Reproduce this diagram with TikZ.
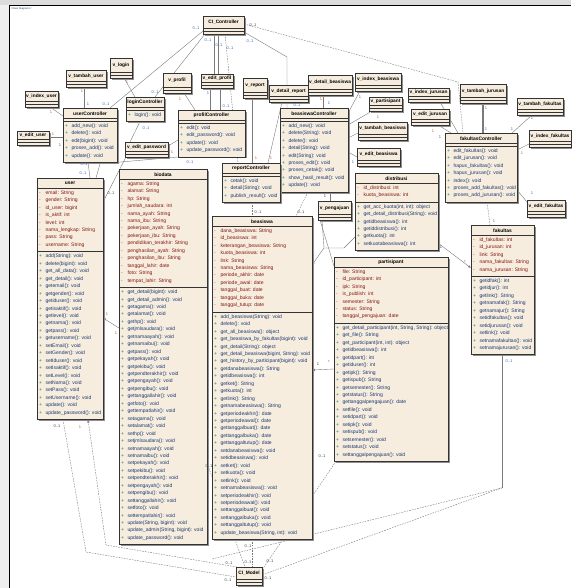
\documentclass[tikz,border=0pt]{standalone}
\usepackage{fontspec}
\setmainfont{Liberation Sans}
\usetikzlibrary{arrows.meta,calc}

\definecolor{boxfill}{HTML}{F6EDDF}
\definecolor{boxline}{HTML}{333333}
\definecolor{shadowc}{HTML}{8E8E8E}
\definecolor{amark}{HTML}{C0392B}
\definecolor{atext}{HTML}{86190F}
\definecolor{mmark}{HTML}{1E7F6A}
\definecolor{mtext}{HTML}{1C3A70}
\definecolor{connc}{HTML}{7A7A7A}
\definecolor{multblue}{HTML}{3B6DB3}
\definecolor{multorange}{HTML}{C0662A}
\definecolor{multdark}{HTML}{454545}
\definecolor{framegrey}{HTML}{DCDCDC}
\definecolor{sidegrey}{HTML}{EFEFEF}

\pgfdeclarelayer{paper}
\pgfdeclarelayer{wires}
\pgfsetlayers{paper,wires,main}

\tikzset{
  umlbox/.style={draw=boxline, fill=boxfill, line width=0.55pt, inner sep=0pt, outer sep=0pt, anchor=north west},
  sepline/.style={draw=boxline, line width=0.4pt},
  titlefont/.style={font=\fontsize{4.9}{5}\selectfont\bfseries, inner sep=0pt},
  viewfont/.style={font=\fontsize{4.8}{5}\selectfont\bfseries, inner sep=0pt},
  listfont/.style={font=\fontsize{5.05}{7.45}\selectfont, align=left, inner sep=0pt, anchor=north west},
  conn/.style={draw=connc, line width=0.4pt},
  dconn/.style={conn, dash pattern=on 1.6pt off 1.1pt},
  tip/.style={-{Latex[length=3pt,width=2.4pt]}},
  mb/.style={font=\fontsize{4}{4}\selectfont, text=multblue, inner sep=0pt},
  mo/.style={mb, text=multorange},
  md/.style={mb, text=multdark},
}

% one attribute / one operation line of a class box
\newcommand\attr[1]{\makebox[6.3pt][l]{\textcolor{amark}{-}}\textcolor{atext}{#1}}
\newcommand\meth[1]{\makebox[6.3pt][l]{\textcolor{mmark}{+}}\textcolor{mtext}{#1}}

% class box: name, x, y, width, title, #attrs, attrs, #ops, ops
\newcommand\umlclass[9]{%
  \pgfmathsetmacro\clsHa{ifthenelse(#6==0,3,#6*7.45+4)}%
  \pgfmathsetmacro\clsHm{ifthenelse(#8==0,3,#8*7.45+4)}%
  \pgfmathsetmacro\clsHt{10+\clsHa+\clsHm}%
  \fill[shadowc] (#2+1.6,#3+1.6) rectangle ++(#4,\clsHt);
  \node[umlbox, minimum width=#4pt, minimum height=\clsHt pt] (#1) at (#2,#3) {};
  \draw[sepline] (#2,#3+10) -- ++(#4,0);
  \draw[sepline] (#2,#3+10+\clsHa) -- ++(#4,0);
  \node[titlefont] at (#2+#4/2,#3+5.4) {#5};
  \node[listfont] at (#2+2,#3+12.4) {#7};
  \node[listfont] at (#2+2,#3+12.4+\clsHa) {#9};
}

% view / base class box without members: name, x, y, width, height, title
\newcommand\umlview[6]{%
  \fill[shadowc] (#2+1.6,#3+1.6) rectangle ++(#4,#5);
  \node[umlbox, minimum width=#4pt, minimum height=#5pt] (#1) at (#2,#3) {};
  \draw[sepline] (#2,#3+#5-6) -- ++(#4,0);
  \draw[sepline] (#2,#3+#5-3) -- ++(#4,0);
  \node[viewfont] at (#2+#4/2,#3+#5/2-2.6) {#6};
}

\begin{document}
\catcode`\_=12
\begin{tikzpicture}[x=1pt,y=-1pt]
\useasboundingbox (0,0) rectangle (571,588);
\begin{pgfonlayer}{paper}
\fill[white] (0,0) rectangle (571,588);
\fill[framegrey] (0,0) rectangle (571,5.3);
\fill[sidegrey] (0,5.3) rectangle (9,588);
\draw[black, line width=0.9pt] (9,5.6) -- (571,5.6);
\draw[black, line width=0.8pt] (9,5.6) -- (9,588);
\end{pgfonlayer}
\node[font=\fontsize{2.6}{3}\selectfont, text=mtext, anchor=north west, inner sep=0.4pt] (tab) at (11,6.6) {Class Diagram1 /};

% ---------------- views and base classes ----------------
\umlview{CIC}{203}{16}{41}{18}{CI_Controller}
\umlview{CIM}{236}{567}{26}{18}{CI_Model}
\umlview{vlogin}{110}{58}{22}{20}{v_login}
\umlview{vtambahuser}{66}{70}{40}{17}{v_tambah_user}
\umlview{vindexuser}{25}{91}{33}{16}{v_index_user}
\umlview{vedituser}{17}{131}{32}{14}{v_edit_user}
\umlview{vprofil}{163}{73}{28}{20}{v_profil}
\umlview{veditpw}{125}{142}{43}{15}{v_edit_password}
\umlview{veditprofil}{201}{74}{32}{14}{v_edit_profil}
\umlview{vreport}{243}{78}{24}{20}{v_report}
\umlview{vdetailreport}{269}{85}{39}{17}{v_detail_report}
\umlview{vdetailbea}{308}{75}{44}{20}{v_detail_beasiswa}
\umlview{vindexbea}{355}{73}{46}{18}{v_index_beasiswa}
\umlview{vpartisipant}{369}{97}{33}{14}{v_partisipant}
\umlview{vtambahbea}{358}{122}{49}{18}{v_tambah_beasiswa}
\umlview{veditbea}{357}{148}{43}{18}{v_edit_beasiswa}
\umlview{vpengajuan}{318}{201}{33}{19}{v_pengajuan}
\umlview{vindexjur}{408}{88}{41}{14}{v_index_jurusan}
\umlview{veditjur}{411}{109}{38}{16}{v_edit_jurusan}
\umlview{vtambahjur}{460}{84}{46}{19}{v_tambah_jurusan}
\umlview{vtambahfak}{517}{98}{46}{17}{v_tambah_fakultas}
\umlview{vindexfak}{529}{130}{42}{17}{v_index_fakultas}
\umlview{veditfak}{527}{200}{38}{17}{v_edit_fakultas}

% ---------------- controllers ----------------
\umlclass{userCtl}{63}{108}{54}{userController}{0}{}{5}{%
\meth{add_new(): void}\\\meth{delete(): void}\\\meth{edit(bigint): void}\\\meth{proses_add(): void}\\\meth{update(): void}}
\umlclass{loginCtl}{126}{97}{38}{loginController}{0}{}{1}{\meth{login(): void}}
\umlclass{profilCtl}{178}{110}{67}{profilController}{0}{}{4}{%
\meth{edit(): void}\\\meth{edit_password(): void}\\\meth{update(): void}\\\meth{update_password(): void}}
\umlclass{beasiswaCtl}{280}{108}{68}{beasiswaController}{0}{}{9}{%
\meth{add_new(): void}\\\meth{delete(String): void}\\\meth{delete(): void}\\\meth{detail(String): void}\\%
\meth{edit(String): void}\\\meth{proses_edit(): void}\\\meth{proses_cetak(): void}\\\meth{show_hasil_result(): void}\\\meth{update(): void}}
\umlclass{reportCtl}{222}{163}{58}{reportController}{0}{}{3}{%
\meth{cetak(): void}\\\meth{detail(String): void}\\\meth{publish_result(): void}}
\umlclass{fakultasCtl}{445}{133}{72}{fakultasController}{0}{}{7}{%
\meth{edit_fakultas(): void}\\\meth{edit_jurusan(): void}\\\meth{hapus_fakultas(): void}\\\meth{hapus_jurusan(): void}\\%
\meth{index(): void}\\\meth{proses_add_fakultas(): void}\\\meth{proses_add_jurusan(): void}}

% ---------------- models ----------------
\umlclass{user}{37}{178}{66}{user}{8}{%
\attr{email: String}\\\attr{gender: String}\\\attr{id_user: bigint}\\\attr{is_aktif: int}\\%
\attr{level: int}\\\attr{nama_lengkap: String}\\\attr{pass: String}\\\attr{username: String}}{22}{%
\meth{add(String): void}\\\meth{delete(bigint): void}\\\meth{get_all_data(): void}\\\meth{get_detail(): void}\\%
\meth{getemail(): void}\\\meth{getgender(): void}\\\meth{getiduser(): void}\\\meth{getisaktif(): void}\\%
\meth{getlevel(): void}\\\meth{getnama(): void}\\\meth{getpass(): void}\\\meth{getusername(): void}\\%
\meth{setEmail(): void}\\\meth{setGender(): void}\\\meth{setIduser(): void}\\\meth{setIsaktif(): void}\\%
\meth{setLevel(): void}\\\meth{setNama(): void}\\\meth{setPass(): void}\\\meth{setUsername(): void}\\%
\meth{update(): void}\\\meth{update_password(): void}}

\umlclass{biodata}{119}{169}{88}{biodata}{14}{%
\attr{agama: String}\\\attr{alamat: String}\\\attr{hp: String}\\\attr{jumlah_saudara: int}\\%
\attr{nama_ayah: String}\\\attr{nama_ibu: String}\\\attr{pekerjaan_ayah: String}\\\attr{pekerjaan_ibu: String}\\%
\attr{pendidikan_terakhir: String}\\\attr{penghasilan_ayah: String}\\\attr{penghasilan_ibu: String}\\%
\attr{tanggal_lahir: date}\\\attr{foto: String}\\\attr{tempat_lahir: String}}{34}{%
\meth{get_detail(bigint): void}\\\meth{get_detail_admin(): void}\\\meth{getagama(): void}\\\meth{getalamat(): void}\\%
\meth{gethp(): void}\\\meth{getjmlsaudara(): void}\\\meth{getnamaayah(): void}\\\meth{getnamaibu(): void}\\%
\meth{getpass(): void}\\\meth{getpekayah(): void}\\\meth{getpekibu(): void}\\\meth{getpendterakhir(): void}\\%
\meth{getpengayah(): void}\\\meth{getpengibu(): void}\\\meth{gettanggallahir(): void}\\\meth{getfoto(): void}\\%
\meth{gettempatlahir(): void}\\\meth{setagama(): void}\\\meth{setalamat(): void}\\\meth{sethp(): void}\\%
\meth{setjmlsaudara(): void}\\\meth{setnamaayah(): void}\\\meth{setnamaibu(): void}\\\meth{setpekayah(): void}\\%
\meth{setpekibu(): void}\\\meth{setpendterakhir(): void}\\\meth{setpengayah(): void}\\\meth{setpengibu(): void}\\%
\meth{settanggallahir(): void}\\\meth{setfoto(): void}\\\meth{settempatlahir(): void}\\%
\meth{update(String, bigint): void}\\\meth{update_admin(String, bigint): void}\\\meth{update_password(): void}}

\umlclass{beasiswa}{212}{216}{100}{beasiswa}{11}{%
\attr{dana_beasiswa: String}\\\attr{id_beasiswa: int}\\\attr{keterangan_beasiswa: String}\\\attr{kuota_beasiswa: int}\\%
\attr{link: String}\\\attr{nama_beasiswa: String}\\\attr{periode_akhir: date}\\\attr{periode_awal: date}\\%
\attr{tanggal_buat: date}\\\attr{tanggal_buka: date}\\\attr{tanggal_tutup: date}}{30}{%
\meth{add_beasiswa(String): void}\\\meth{delete(): void}\\\meth{get_all_beasiswa(): object}\\%
\meth{get_beasiswa_by_fakultas(bigint): void}\\\meth{get_detail(String): object}\\%
\meth{get_detail_beasiswa(bigint, String): void}\\\meth{get_history_by_participant(bigint): void}\\%
\meth{getdanabeasiswa(): String}\\\meth{getidbeasiswa(): int}\\\meth{getket(): String}\\\meth{getkuota(): int}\\%
\meth{getlink(): String}\\\meth{getnamabeasiswa(): String}\\\meth{getperiodeakhir(): date}\\\meth{getperiodeawal(): date}\\%
\meth{gettanggalbuat(): date}\\\meth{gettanggalbuka(): date}\\\meth{gettanggaltutup(): date}\\%
\meth{setdanabeasiswa(): void}\\\meth{setidbeasiswa(): void}\\\meth{setket(): void}\\\meth{setkuota(): void}\\%
\meth{setlink(): void}\\\meth{setnamabeasiswa(): void}\\\meth{setperiodeakhir(): void}\\\meth{setperiodeawal(): void}\\%
\meth{settanggalbuat(): void}\\\meth{settanggalbuka(): void}\\\meth{settanggaltutup(): void}\\%
\meth{update_beasiswa(String, int): void}}

\umlclass{partisipant}{334}{257}{114}{partisipant}{7}{%
\attr{file: String}\\\attr{id_participant: int}\\\attr{ipk: String}\\\attr{is_publish: int}\\%
\attr{semester: String}\\\attr{status: String}\\\attr{tanggal_pengajuan: date}}{18}{%
\meth{get_detail_participant(int, String, String): object}\\\meth{get_file(): String}\\%
\meth{get_participant(int, int): object}\\\meth{getidbeasiswa(): int}\\\meth{getidpart(): int}\\%
\meth{getiduser(): int}\\\meth{getipk(): String}\\\meth{getispub(): String}\\\meth{getsemester(): String}\\%
\meth{getstatus(): String}\\\meth{gettanggalpengajuan(): date}\\\meth{setfile(): void}\\\meth{setidpart(): void}\\%
\meth{setipk(): void}\\\meth{setispub(): void}\\\meth{setsemester(): void}\\\meth{setstatus(): void}\\%
\meth{settanggalpengajuan(): void}}

\umlclass{distribusi}{355}{173}{83}{distribusi}{2}{%
\attr{id_distribusi: int}\\\attr{kuota_beasiswa: int}}{6}{%
\meth{get_acc_kuota(int, int): object}\\\meth{get_detail_distribusi(String): void}\\\meth{getidbeasiswa(): int}\\%
\meth{getiddistribusi(): int}\\\meth{getkuota(): int}\\\meth{setkuotabeasiswa(): int}}

\umlclass{fakultas}{471}{225}{63}{fakultas}{5}{%
\attr{id_fakultas: int}\\\attr{id_jurusan: int}\\\attr{link: String}\\\attr{nama_fakultas: String}\\\attr{nama_jurusan: String}}{10}{%
\meth{getidfak(): int}\\\meth{getidjur(): int}\\\meth{getlink(): String}\\\meth{getnamafak(): String}\\%
\meth{getnamajur(): String}\\\meth{setidfakultas(): void}\\\meth{setidjurusan(): void}\\\meth{setlink(): void}\\%
\meth{setnamafakultas(): void}\\\meth{setnamajurusan(): void}}

% ---------------- connectors (kept underneath the boxes) ----------------
\begin{pgfonlayer}{wires}
% controllers inherit from CI_Controller
\draw[conn] ($(userCtl.north west)+(47,0)$) -- ($(CIC.north west)+(0,15)$);
\draw[conn] ($(loginCtl.north west)+(29,0)$) -- ($(CIC.north west)+(2,18)$);
\draw[conn] ($(CIC.north west)+(11,18)$) -- ($(veditprofil.north west)+(13,0)$);
\draw[conn] ($(CIC.north west)+(15,18)$) -- ($(veditprofil.north west)+(17,0)$);
\draw[conn] ($(veditprofil.north west)+(9,14)$) -- ($(profilCtl.north west)+(32,0)$);
\draw[conn] ($(veditprofil.north west)+(19,14)$) -- ($(profilCtl.north west)+(42,0)$);
\draw[dconn] ($(CIC.north west)+(22,18)$) -- ($(reportCtl.north west)+(16,0)$);
\draw[conn] ($(CIC.north west)+(41,16)$) -- ++(43,25) -- ($(beasiswaCtl.north west)+(7,0)$);
\draw[dconn] ($(CIC.north west)+(41,8)$) -- ++(214,58) -- ($(fakultasCtl.north west)+(18,0)$);
% views used by the controllers
\draw[conn] ($(vlogin.north west)+(14,20)$) -- ($(loginCtl.north west)+(9,0)$);
\draw[conn] ($(vtambahuser.north west)+(18,17)$) -- ($(userCtl.north west)+(21,0)$);
\draw[conn] ($(vindexuser.north west)+(25,16)$) -- ($(userCtl.north west)+(0,8)$);
\draw[conn] ($(vedituser.north west)+(32,6)$) -- ($(userCtl.north west)+(0,29)$);
\draw[conn] ($(vprofil.north west)+(21,20)$) -- ($(profilCtl.north west)+(17,0)$);
\draw[conn] ($(loginCtl.north west)+(14,24.5)$) -- ($(veditpw.north west)+(5,0)$);
\draw[conn] ($(veditpw.north west)+(43,4)$) -- ($(profilCtl.north west)+(0,30)$);
\draw[conn] ($(vreport.north west)+(9,20)$) -- ($(reportCtl.north west)+(30,0)$);
\draw[conn] ($(vdetailreport.north west)+(13,17)$) -- ($(reportCtl.north west)+(46,0)$);
\draw[conn] ($(vdetailbea.north west)+(15,20)$) -- ($(beasiswaCtl.north west)+(43,0)$);
\draw[conn] ($(vindexbea.north west)+(5,18)$) -- ($(beasiswaCtl.north west)+(68,5)$);
\draw[conn] ($(vpartisipant.north west)+(3,14)$) -- ($(beasiswaCtl.north west)+(68,17)$);
\draw[conn] ($(vtambahbea.north west)+(0,11)$) -- ($(beasiswaCtl.north west)+(68,30)$);
\draw[conn] ($(veditbea.north west)+(0,9)$) -- ($(beasiswaCtl.north west)+(68,44)$);
\draw[conn] ($(vindexjur.north west)+(32,14)$) -- ($(fakultasCtl.north west)+(13,0)$);
\draw[conn] ($(veditjur.north west)+(27,16)$) -- ($(fakultasCtl.north west)+(6,0)$);
\draw[conn] ($(vtambahjur.north west)+(22,19)$) -- ($(fakultasCtl.north west)+(37,0)$);
\draw[conn] ($(vtambahjur.north west)+(23.5,19)$) -- ($(fakultasCtl.north west)+(38.5,0)$);
\draw[conn] ($(vtambahfak.north west)+(15,17)$) -- ($(fakultasCtl.north west)+(67,0)$);
\draw[conn] ($(vindexfak.north west)+(0,14)$) -- ($(fakultasCtl.north west)+(72,17)$);
\draw[conn] ($(veditfak.north west)+(0,2)$) -- ($(fakultasCtl.north west)+(72,57)$);
% controllers to models
\draw[conn] ($(userCtl.north west)+(25,54.25)$) -- ($(user.north west)+(53,0)$);
\draw[conn] ($(profilCtl.north west)+(2,46.8)$) -- ++(-80,7) -- ($(user.north west)+(59,0)$);
\draw[conn] ($(veditpw.north west)+(1,15)$) -- ($(user.north west)+(66,24)$);
\draw[dconn] ($(beasiswaCtl.north west)+(28,84.05)$) -- ($(beasiswa.north west)+(84,0)$);
\draw[dconn] ($(reportCtl.north west)+(30,39.35)$) -- ($(beasiswa.north west)+(40,0)$);
\draw[conn] ($(beasiswaCtl.north west)+(50,84.05)$) -- ($(vpengajuan.north west)+(12,0)$);
% associations between models
\draw[conn,tip] ($(distribusi.north west)+(0,64)$) -- ++(-11,11) -- ++(-20,0) coordinate (beajoin)
  -- ($(beasiswa.north west)+(100,49)$);
\draw[conn] ($(vpengajuan.north west)+(4,19)$) -- (beajoin);
\draw[conn] ($(vpengajuan.north west)+(2,19)$) -- ($(partisipant.north west)+(0,9)$);
\draw[conn,tip] ($(distribusi.north west)+(83,70)$) -- ($(fakultas.north west)+(0,43)$);
\draw[dconn] ($(fakultasCtl.north west)+(42,69.15)$) -- ($(fakultas.north west)+(19,0)$);
\draw[conn,tip] ($(partisipant.north west)+(0,112)$) -- ($(beasiswa.north west)+(100,154)$);
\draw[conn,tip] ($(biodata.north west)+(0,159)$) -- ($(user.north west)+(66,140)$);
% models inherit from CI_Model
\draw[dconn] ($(user.south west)+(26,0)$) -- ++(23,132.5) -- ($(CIM.north west)+(0,10)$);
\draw[dconn,tip] ($(CIM.north west)+(1,0)$) -- ++(-131,-22) -- ($(user.south west)+(51,0)$);
\draw[conn] (fakultas.south) -- ++(0,133) coordinate (fakbend);
\draw[dconn] (fakbend) -- ($(CIM.north west)+(26,8)$);
\draw[dconn] (fakbend) -- ($(CIM.north west)+(-24,-8)$);
\draw[dconn] ($(biodata.north west)+(88,294)$) -- ($(CIM.north west)+(9,0)$);
\draw[dconn] ($(beasiswa.south west)+(40,0)$) -- ($(CIM.north west)+(16,0)$);
\draw[dconn] ($(partisipant.south west)+(2,0)$) -- ($(CIM.north west)+(26,3)$);
\end{pgfonlayer}

% ---------------- multiplicities ----------------
\node[mb] (m1) at (196,28) {0..1};
\node[mb] (m2) at (106,104) {0..1};
\node[mb] (m3) at (155,92) {0..1};
\node[mb] (m4) at (208,40) {0..1};
\node[mb] (m5) at (219,45) {0..1};
\node[mb] (m6) at (208,93) {1};
\node[mb] (m7) at (226,106) {0..1};
\node[mb] (m8) at (230,48) {0..1};
\node[mb] (m9) at (250,41) {0..1};
\node[mb] (m10) at (297,105) {0..1};
\node[md] (m11) at (253,25) {0..1};
\node[mo] (m12) at (127,82) {1};
\node[mo] (m13) at (82,91) {1};
\node[mb] (m14) at (88,104) {1};
\node[mo] (m15) at (51,112) {1};
\node[mo] (m16) at (53,134) {1};
\node[mb] (m17) at (60,145) {1};
\node[mo] (m18) at (180,99) {1};
\node[mb] (m19) at (146,128) {0..1};
\node[mo] (m20) at (172,152) {1};
\node[mo] (m21) at (256,158) {1};
\node[mo] (m22) at (271,158) {1};
\node[mo] (m23) at (321,99) {1};
\node[mb] (m24) at (329,103) {1};
\node[mb] (m25) at (360,97) {1};
\node[mo] (m26) at (378,117) {1};
\node[mb] (m27) at (353,162) {1};
\node[mo] (m28) at (433,131) {1};
\node[mb] (m29) at (440,137) {1};
\node[mo] (m30) at (486,108) {1};
\node[mb] (m31) at (486,129) {1};
\node[mb] (m32) at (532,118) {1};
\node[mb] (m33) at (512,129) {1};
\node[mo] (m34) at (522,153) {1};
\node[mb] (m35) at (532,193) {1};
\node[mb] (m36) at (494,221) {1};
\node[md] (m37) at (441,247) {1};
\node[md] (m38) at (465,262) {*};
\node[md] (m39) at (318,364) {1};
\node[md] (m40) at (329,362) {*};
\node[mo] (m41) at (107,314) {1};
\node[mo] (m42) at (116,333) {1};
\node[mb] (m43) at (84,164) {0..1};
\node[mb] (m44) at (83,173) {0..1};
\node[md] (m45) at (111,193) {0..1};
\node[mb] (m46) at (190,162) {0..1};
\node[md] (m47) at (258,212) {0..1};
\node[md] (m48) at (301,212) {0..1};
\node[md] (m49) at (325,196) {1};
\node[md] (m50) at (57,426) {0..1};
\node[mo] (m51) at (80,427) {1};
\node[mb] (m52) at (509,361) {0..1};
\node[md] (m53) at (209,466) {0..1};
\node[md] (m54) at (248,546) {0..1};
\node[md] (m55) at (248,562) {0..1};
\node[md] (m56) at (322,456) {0..1};
\node[md] (m57) at (270,561) {0..1};
\node[md] (m58) at (229,563) {0..1};
\node[md] (m59) at (228,580) {0..1};
\node[md] (m60) at (268,578) {0..1};
\end{tikzpicture}
\end{document}
